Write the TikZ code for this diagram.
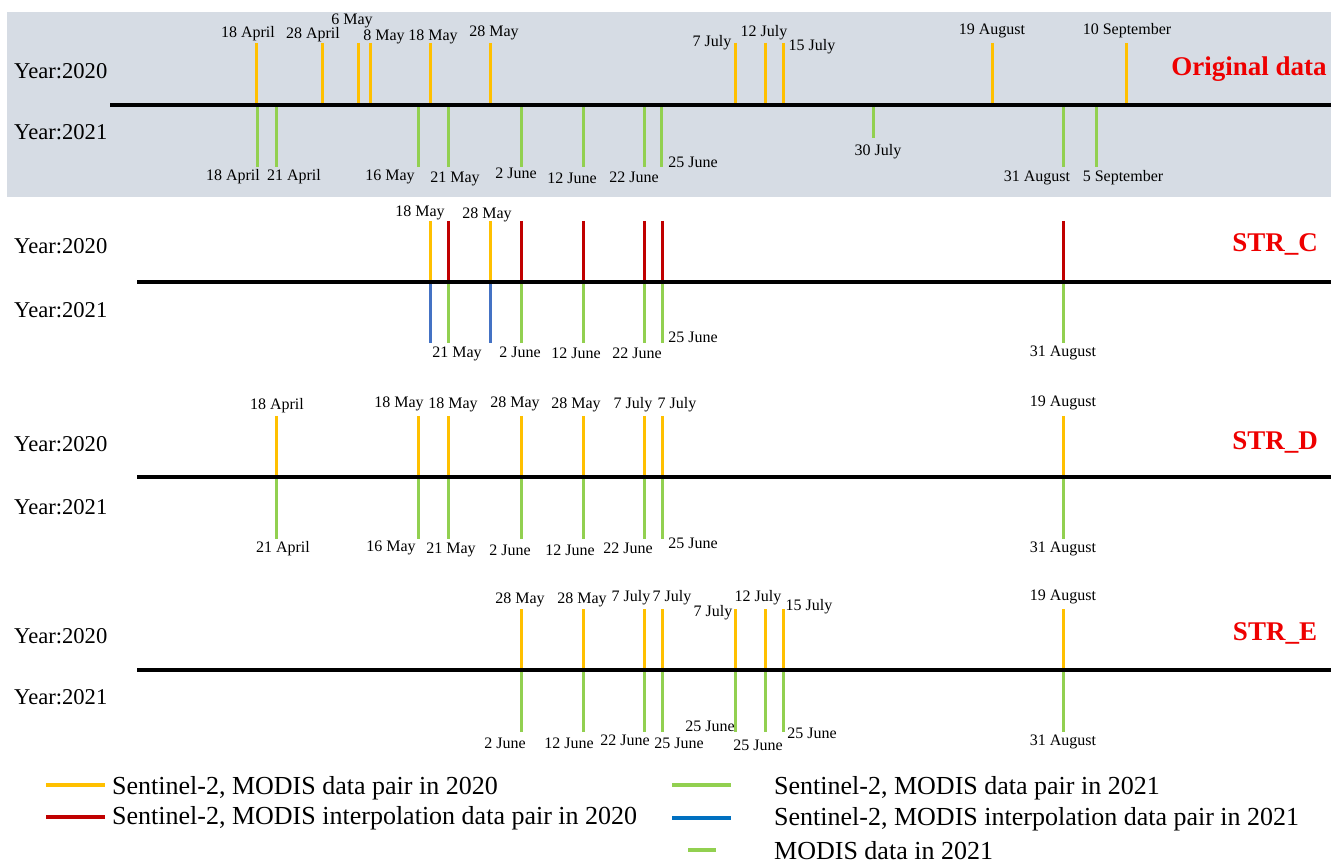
\documentclass[tikz,border=0pt]{standalone}
\usepackage{fontspec}
\setmainfont{Liberation Serif}
\definecolor{cOr}{HTML}{FFC000}
\definecolor{cGr}{HTML}{92D050}
\definecolor{cRd}{HTML}{C00000}
\definecolor{cBl}{HTML}{4472C4}
\definecolor{cBl2}{HTML}{0070C0}
\definecolor{cBg}{HTML}{D6DCE4}
\definecolor{cTitle}{HTML}{EE0000}
\newcommand\yfnt{\fontsize{22.6}{26}\selectfont}
\newcommand\dfnt{\fontsize{16}{19}\selectfont}
\newcommand\lfnt{\fontsize{26}{30}\selectfont}
\newcommand\tfnt{\fontsize{27}{32}\selectfont\bfseries}
\begin{document}
\begin{tikzpicture}[x=1pt,y=-1pt,
  yearlab/.style={font=\yfnt, anchor=west, inner sep=0pt},
  datelab/.style={font=\dfnt, inner sep=0pt},
  leglab/.style={font=\lfnt, anchor=west, inner sep=0pt},
  titlelab/.style={font=\tfnt, text=cTitle, inner sep=0pt},
  tk/.style={line width=3pt},
  axisline/.style={line width=4pt, black},
  legline/.style={line width=4pt}]
\useasboundingbox (0,0) rectangle (1331,866);
\fill[cBg] (7,12) rectangle (1331,197);

% ---------------- Panel 1: Original data
\foreach \x in {256,322,358,370,430,490,735,765,783,992,1126}
  \draw[tk, cOr] (\x,43) -- (\x,104);
\foreach \x in {257,276,418,448,521,583,644,661,1063,1096}
  \draw[tk, cGr] (\x,106) -- (\x,167);
\draw[tk, cGr] (873,106) -- (873,138);
\draw[axisline] (110,105) coordinate (a1s) -- (1331,105) coordinate (a1e);
\node[yearlab] (y1a) at (14,71) {Year:2020};
\node[yearlab] (y1b) at (14,132) {Year:2021};
\node[titlelab] (t1) at (1249,69) {Original data};
\foreach \t/\x/\y [count=\i] in {18 April/248/34, 28 April/313/35, 6 May/352/21, 8 May/384/37, 18 May/433/37, 28 May/494/33, 7 July/712/43, 12 July/764/33, 15 July/812/47, 19 August/992/31, 10 September/1127/31}
  \node[datelab] (p1u\i) at (\x,\y) {\t};
\foreach \t/\x/\y [count=\i] in {18 April/233/177, 21 April/294/177, 16 May/390/177, 21 May/455/179, 2 June/516/173, 12 June/572/178, 22 June/634/177, 25 June/693/162, 30 July/878/152, 31 August/1037/178, 5 September/1123/178}
  \node[datelab] (p1d\i) at (\x,\y) {\t};

% ---------------- Panel 2: STR_C
\foreach \x in {430,490}
  \draw[tk, cOr] (\x,221) -- (\x,281);
\foreach \x in {448,521,583,644,662,1063}
  \draw[tk, cRd] (\x,221) -- (\x,281);
\foreach \x in {430,490}
  \draw[tk, cBl] (\x,283) -- (\x,343);
\foreach \x in {448,521,583,644,662,1063}
  \draw[tk, cGr] (\x,283) -- (\x,343);
\draw[axisline] (137,282) coordinate (a2s) -- (1331,282) coordinate (a2e);
\node[yearlab] (y2a) at (14,246) {Year:2020};
\node[yearlab] (y2b) at (14,310) {Year:2021};
\node[titlelab] (t2) at (1275,244) {STR\_C};
\foreach \t/\x/\y [count=\i] in {18 May/420/213, 28 May/487/215}
  \node[datelab] (p2u\i) at (\x,\y) {\t};
\foreach \t/\x/\y [count=\i] in {21 May/457/354, 2 June/520/352, 12 June/576/353, 22 June/637/353, 25 June/693/337, 31 August/1063/353}
  \node[datelab] (p2d\i) at (\x,\y) {\t};

% ---------------- Panel 3: STR_D
\foreach \x in {276,418,448,521,583,644,662,1063}
  \draw[tk, cOr] (\x,416) -- (\x,476);
\foreach \x in {276,418,448,521,583,644,662,1063}
  \draw[tk, cGr] (\x,478) -- (\x,539);
\draw[axisline] (137,477) coordinate (a3s) -- (1331,477) coordinate (a3e);
\node[yearlab] (y3a) at (14,444) {Year:2020};
\node[yearlab] (y3b) at (14,507) {Year:2021};
\node[titlelab] (t3) at (1275,442) {STR\_D};
\foreach \t/\x/\y [count=\i] in {18 April/277/406, 18 May/399/404, 18 May/453/405, 28 May/515/404, 28 May/576/405, 7 July/633/405, 7 July/677/405, 19 August/1063/403}
  \node[datelab] (p3u\i) at (\x,\y) {\t};
\foreach \t/\x/\y [count=\i] in {21 April/283/549, 16 May/391/548, 21 May/451/550, 2 June/510/550, 12 June/570/550, 22 June/628/548, 25 June/693/543, 31 August/1063/549}
  \node[datelab] (p3d\i) at (\x,\y) {\t};

% ---------------- Panel 4: STR_E
\foreach \x in {521,583,644,662,735,765,783,1063}
  \draw[tk, cOr] (\x,609) -- (\x,669);
\foreach \x in {521,583,644,662,735,765,783,1063}
  \draw[tk, cGr] (\x,671) -- (\x,732);
\draw[axisline] (137,670) coordinate (a4s) -- (1331,670) coordinate (a4e);
\node[yearlab] (y4a) at (14,636) {Year:2020};
\node[yearlab] (y4b) at (14,697) {Year:2021};
\node[titlelab] (t4) at (1275,633) {STR\_E};
\foreach \t/\x/\y [count=\i] in {28 May/520/600, 28 May/582/600, 7 July/631/598, 7 July/672/598, 7 July/713/613, 12 July/758/598, 15 July/809/607, 19 August/1063/597}
  \node[datelab] (p4u\i) at (\x,\y) {\t};
\foreach \t/\x/\y [count=\i] in {2 June/505/743, 12 June/569/743, 22 June/625/740, 25 June/679/743, 25 June/710/726, 25 June/758/745, 25 June/812/733, 31 August/1063/742}
  \node[datelab] (p4d\i) at (\x,\y) {\t};

% ---------------- Legend
\draw[legline, cOr] (46,785) -- (105,785);
\node[leglab] (l1) at (112,788) {Sentinel-2, MODIS data pair in 2020};
\draw[legline, cRd] (46,817) -- (105,817);
\node[leglab] (l2) at (112,818) {Sentinel-2, MODIS interpolation data pair in 2020};
\draw[legline, cGr] (672,785) -- (731,785);
\node[leglab] (l3) at (774,788) {Sentinel-2, MODIS data pair in 2021};
\draw[legline, cBl2] (672,818) -- (731,818);
\node[leglab] (l4) at (774,819) {Sentinel-2, MODIS interpolation data pair in 2021};
\draw[legline, cGr] (688,850) -- (716,850);
\node[leglab] (l5) at (774,851) {MODIS data in 2021};
\end{tikzpicture}
\end{document}
